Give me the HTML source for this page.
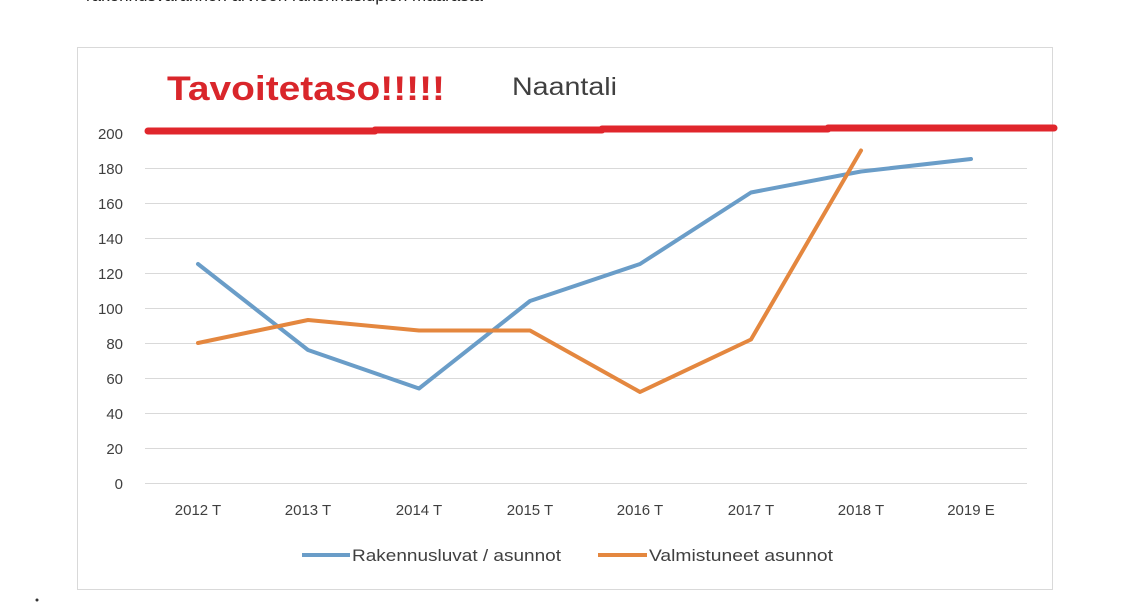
<!DOCTYPE html><html><head><style>body{margin:0;background:#fff;width:1126px;height:612px;overflow:hidden;position:relative;font-family:"Liberation Sans",sans-serif}</style></head><body>
<div style="position:absolute;left:86px;top:-14px;font-size:17px;color:#222;white-space:nowrap">rakennusvarannon arvioon rakennuslupien määrästä</div>
<svg width="1126" height="612" style="position:absolute;left:0;top:0" font-family="Liberation Sans, sans-serif">
<rect x="77.5" y="47.5" width="975" height="542" fill="none" stroke="#d9d9d9"/>
<g stroke="#d9d9d9" stroke-width="1">
<line x1="145" x2="1027" y1="483.5" y2="483.5"/><line x1="145" x2="1027" y1="448.5" y2="448.5"/><line x1="145" x2="1027" y1="413.5" y2="413.5"/><line x1="145" x2="1027" y1="378.5" y2="378.5"/><line x1="145" x2="1027" y1="343.5" y2="343.5"/><line x1="145" x2="1027" y1="308.5" y2="308.5"/><line x1="145" x2="1027" y1="273.5" y2="273.5"/><line x1="145" x2="1027" y1="238.5" y2="238.5"/><line x1="145" x2="1027" y1="203.5" y2="203.5"/><line x1="145" x2="1027" y1="168.5" y2="168.5"/>
</g>
<g font-size="15" fill="#404040" text-anchor="end">
<text x="123" y="489">0</text><text x="123" y="454">20</text><text x="123" y="419">40</text><text x="123" y="384">60</text><text x="123" y="349">80</text><text x="123" y="314">100</text><text x="123" y="279">120</text><text x="123" y="244">140</text><text x="123" y="209">160</text><text x="123" y="174">180</text><text x="123" y="139">200</text>
</g>
<g font-size="15" fill="#404040" text-anchor="middle">
<text x="198" y="515">2012 T</text><text x="308" y="515">2013 T</text><text x="419" y="515">2014 T</text><text x="530" y="515">2015 T</text><text x="640" y="515">2016 T</text><text x="751" y="515">2017 T</text><text x="861" y="515">2018 T</text><text x="971" y="515">2019 E</text>
</g>
<g stroke="#e0262c" stroke-width="7" stroke-linecap="round">
<line x1="148" x2="375" y1="131" y2="131"/><line x1="375" x2="602" y1="130" y2="130"/><line x1="602" x2="828" y1="129" y2="129"/><line x1="828" x2="1054" y1="128" y2="128"/>
</g>
<polyline fill="none" stroke="#6a9dc8" stroke-width="4" stroke-linejoin="round" stroke-linecap="round" points="198,264 308,350 419,388.5 530,301 640,264 751,192.5 861,171.5 971,159"/>
<polyline fill="none" stroke="#e4873f" stroke-width="4" stroke-linejoin="round" stroke-linecap="round" points="198,343 308,320 419,330.5 530,330.5 640,392 751,339.5 861,150.5"/>
<text x="167" y="100" font-size="34" font-weight="bold" fill="#d9262b" textLength="278" lengthAdjust="spacingAndGlyphs">Tavoitetaso!!!!!</text>
<text x="512" y="95" font-size="25" fill="#404040" textLength="105" lengthAdjust="spacingAndGlyphs">Naantali</text>
<line x1="302" x2="350" y1="555" y2="555" stroke="#6a9dc8" stroke-width="4"/>
<text x="352" y="561" font-size="17" fill="#404040" textLength="209" lengthAdjust="spacingAndGlyphs">Rakennusluvat / asunnot</text>
<line x1="598" x2="647" y1="555" y2="555" stroke="#e4873f" stroke-width="4"/>
<text x="649" y="561" font-size="17" fill="#404040" textLength="184" lengthAdjust="spacingAndGlyphs">Valmistuneet asunnot</text>
<circle cx="37" cy="600" r="1.5" fill="#333"/>
</svg>
</body></html>
